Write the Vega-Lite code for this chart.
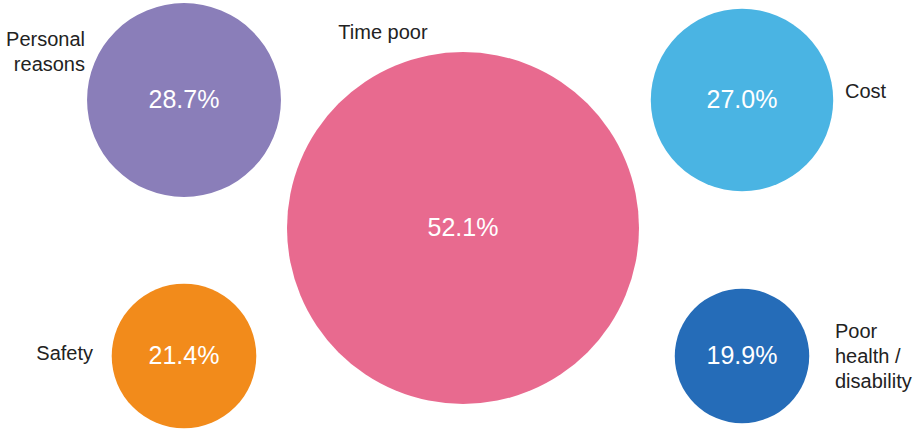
{
  "$schema": "https://vega.github.io/schema/vega-lite/v6.json",
  "autosize": {"type": "fit", "contains": "padding"},
  "width": 921,
  "height": 440,
  "padding": 0,
  "background": "white",
  "config": {"view": {"stroke": null}, "font": "Liberation Sans"},
  "data": {
    "values": [
      {"category": "Personal reasons", "label": "Personal\nreasons", "share": 0.287, "column": "left", "row": "top"},
      {"category": "Safety", "label": "Safety", "share": 0.214, "column": "left", "row": "bottom"},
      {"category": "Time poor", "label": "Time poor", "share": 0.521, "column": "center", "row": "middle"},
      {"category": "Cost", "label": "Cost", "share": 0.270, "column": "right", "row": "top"},
      {"category": "Poor health / disability", "label": "Poor\nhealth /\ndisability", "share": 0.199, "column": "right", "row": "bottom"}
    ]
  },
  "encoding": {
    "x": {"field": "column", "type": "nominal", "axis": null,
          "scale": {"type": "point", "domain": ["left", "center", "right"], "range": [184, 742], "padding": 0}},
    "y": {"field": "row", "type": "nominal", "axis": null,
          "scale": {"type": "point", "domain": ["top", "middle", "bottom"], "range": [100, 356], "padding": 0}}
  },
  "layer": [
    {
      "mark": {"type": "circle", "opacity": 1},
      "encoding": {
        "size": {"field": "share", "type": "quantitative", "legend": null,
                 "scale": {"type": "pow", "exponent": 2, "domain": [0, 0.521], "range": [0, 123904]}},
        "color": {"field": "category", "type": "nominal", "legend": null,
                  "scale": {"domain": ["Personal reasons", "Safety", "Time poor", "Cost", "Poor health / disability"],
                            "range": ["#8A7EB9", "#F28B1B", "#E86A8F", "#4AB4E3", "#256CB8"]}}
      }
    },
    {
      "mark": {"type": "text", "color": "white", "fontSize": 25, "align": "center", "baseline": "middle"},
      "encoding": {"text": {"field": "share", "type": "quantitative", "format": ".1%"}}
    },
    {
      "transform": [{"filter": "datum.category === 'Personal reasons'"}],
      "mark": {"type": "text", "color": "#222222", "fontSize": 20, "align": "right", "baseline": "middle", "lineBreak": "\n", "lineHeight": 25, "dx": -99, "dy": -60},
      "encoding": {"text": {"field": "label", "type": "nominal"}}
    },
    {
      "transform": [{"filter": "datum.category === 'Time poor'"}],
      "mark": {"type": "text", "color": "#222222", "fontSize": 20, "align": "center", "baseline": "middle", "dx": -80, "dy": -195},
      "encoding": {"text": {"field": "label", "type": "nominal"}}
    },
    {
      "transform": [{"filter": "datum.category === 'Cost'"}],
      "mark": {"type": "text", "color": "#222222", "fontSize": 20, "align": "left", "baseline": "middle", "dx": 103, "dy": -8},
      "encoding": {"text": {"field": "label", "type": "nominal"}}
    },
    {
      "transform": [{"filter": "datum.category === 'Safety'"}],
      "mark": {"type": "text", "color": "#222222", "fontSize": 20, "align": "right", "baseline": "middle", "dx": -91, "dy": -2},
      "encoding": {"text": {"field": "label", "type": "nominal"}}
    },
    {
      "transform": [{"filter": "datum.category === 'Poor health / disability'"}],
      "mark": {"type": "text", "color": "#222222", "fontSize": 20, "align": "left", "baseline": "middle", "lineBreak": "\n", "lineHeight": 25, "dx": 93, "dy": -24},
      "encoding": {"text": {"field": "label", "type": "nominal"}}
    }
  ]
}
